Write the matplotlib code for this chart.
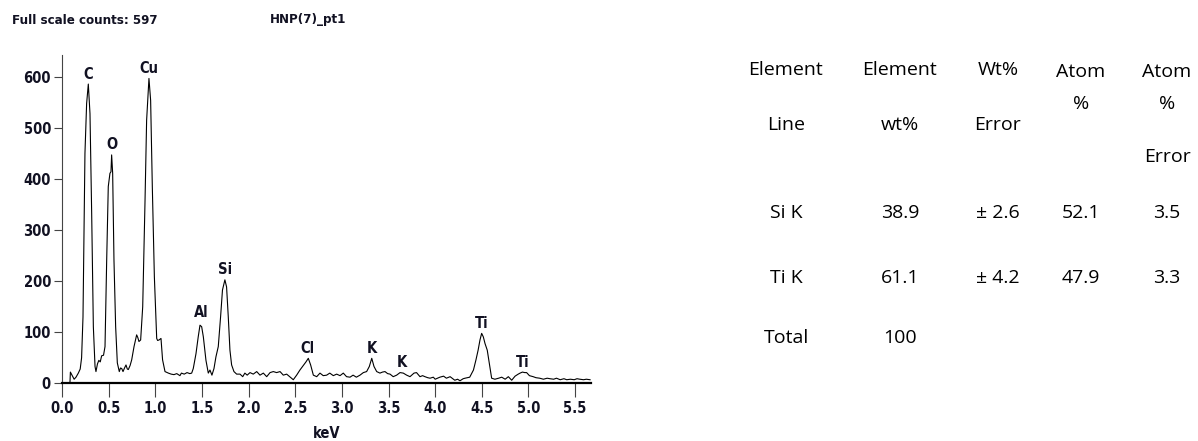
import numpy as np
import matplotlib
matplotlib.use("Agg")
import matplotlib.pyplot as plt

# EDS spectrum (keV, counts)
energy = [0.00, 0.085, 0.09, 0.11, 0.13, 0.15, 0.175, 0.195, 0.21, 0.225, 0.236, 0.246,
          0.264, 0.282, 0.30, 0.318, 0.336, 0.354, 0.364, 0.38, 0.395, 0.41, 0.425, 0.445,
          0.461, 0.479, 0.496, 0.514, 0.525, 0.532, 0.543, 0.557, 0.575, 0.593, 0.614,
          0.627, 0.64, 0.654, 0.67, 0.686, 0.70, 0.711, 0.73, 0.747, 0.772, 0.80, 0.812,
          0.825, 0.843, 0.865, 0.89, 0.907, 0.932, 0.95, 0.968, 0.99, 1.015, 1.025, 1.04,
          1.061, 1.078, 1.104, 1.14, 1.17, 1.20, 1.23, 1.264, 1.28, 1.31, 1.34, 1.37,
          1.39, 1.407, 1.436, 1.46, 1.479, 1.497, 1.515, 1.543, 1.568, 1.586, 1.607,
          1.629, 1.65, 1.675, 1.70, 1.72, 1.746, 1.764, 1.782, 1.80, 1.818, 1.843, 1.872,
          1.908, 1.937, 1.96, 1.985, 2.015, 2.05, 2.087, 2.122, 2.158, 2.194, 2.23, 2.265,
          2.30, 2.337, 2.372, 2.408, 2.44, 2.479, 2.515, 2.55, 2.59, 2.615, 2.64, 2.665,
          2.694, 2.73, 2.765, 2.80, 2.837, 2.87, 2.908, 2.944, 2.98, 3.015, 3.05, 3.087,
          3.12, 3.155, 3.194, 3.23, 3.265, 3.294, 3.32, 3.344, 3.373, 3.408, 3.435, 3.462,
          3.49, 3.516, 3.55, 3.587, 3.623, 3.658, 3.694, 3.73, 3.773, 3.80, 3.837, 3.865,
          3.89, 3.92, 3.945, 3.98, 4.0, 4.05, 4.09, 4.12, 4.16, 4.21, 4.24, 4.266, 4.30,
          4.32, 4.37, 4.41, 4.437, 4.46, 4.48, 4.498, 4.516, 4.534, 4.558, 4.58, 4.605,
          4.64, 4.68, 4.713, 4.75, 4.784, 4.82, 4.856, 4.89, 4.91, 4.935, 4.96, 4.98,
          5.01, 5.05, 5.08, 5.12, 5.16, 5.20, 5.23, 5.27, 5.30, 5.34, 5.38, 5.41, 5.45,
          5.49, 5.52, 5.55, 5.59, 5.62, 5.66]
counts = [0, 0, 22, 15, 8, 12, 20, 28, 50, 130, 307, 451,
          549, 587, 529, 334, 111, 33, 23, 38, 45, 42, 54, 55,
          72, 242, 386, 412, 415, 448, 412, 242, 111, 40, 23,
          30, 29, 23, 30, 36, 28, 27, 35, 46, 72, 95, 90,
          82, 85, 150, 359, 516, 598, 555, 386, 209, 88, 84, 85,
          88, 46, 23, 20, 18, 17, 19, 15, 20, 18, 21, 19,
          20, 29, 58, 91, 114, 111, 91, 45, 20, 26, 16,
          29, 52, 72, 131, 183, 203, 189, 131, 65, 36, 23, 18,
          18, 13, 20, 16, 21, 18, 23, 16, 20, 13, 21, 23,
          21, 23, 16, 18, 13, 7, 16, 26, 36, 42, 49, 36,
          16, 13, 20, 15, 16, 20, 15, 18, 15, 20, 13, 12,
          16, 12, 16, 21, 23, 33, 49, 33, 23, 20, 22, 23,
          19, 18, 13, 16, 21, 20, 16, 13, 20, 21, 13, 15,
          13, 11, 10, 12, 8, 12, 14, 10, 13, 6, 8, 5, 9,
          10, 12, 26, 46, 65, 85, 98, 91, 78, 65, 39, 10,
          8, 10, 12, 8, 13, 6, 14, 18, 20, 22, 21, 21,
          15, 13, 11, 10, 8, 10, 9, 8, 10, 7, 9, 7, 8,
          7, 9, 8, 7, 8, 7]

# peak markers
peak_names = ['C', 'O', 'Cu', 'Al', 'Si', 'Cl', 'K', 'K', 'Ti', 'Ti']
peak_kev = [0.28, 0.53, 0.93, 1.49, 1.75, 2.63, 3.32, 3.64, 4.50, 4.94]
peak_lbl = [606, 469, 617, 139, 224, 69, 69, 40, 118, 40]

# quantification table
table_elem = ['Si K', 'Ti K', 'Total']
table_wt = ['38.9', '61.1', '100']
table_wt_err = ['± 2.6', '± 4.2', '']
table_atom = ['52.1', '47.9', '']
table_atom_err = ['3.5', '3.3', '']

W, H = 1198, 441
fig = plt.figure(figsize=(W / 100, H / 100), dpi=100)
ax = fig.add_axes([62 / W, (H - 383.3) / H, 529 / W, 328.3 / H])

narrow = dict(family=['DejaVu Sans'], stretch='condensed', weight='bold')
ink = '#111122'

ax.plot(energy, counts, color='black', lw=0.8)
ax.set_xlim(0, 5.67)
ax.set_ylim(0, 644)
ax.set_xticks(np.arange(0, 5.51, 0.5))
ax.set_yticks(np.arange(0, 601, 100))
ax.set_xticklabels(['%.1f' % v for v in np.arange(0, 5.51, 0.5)])
for s in ['top', 'right']:
    ax.spines[s].set_visible(False)
ax.spines['bottom'].set_linewidth(1.6)
ax.spines['left'].set_linewidth(0.8)
ax.spines['left'].set_color('#444444')
ax.tick_params(axis='x', length=10, width=0.8, pad=3, color='#444444')
ax.tick_params(axis='y', length=6, width=0.8, pad=2, color='#444444')
for lab in ax.get_xticklabels() + ax.get_yticklabels():
    lab.set_fontfamily(narrow['family'])
    lab.set_fontstretch('condensed')
    lab.set_fontweight('bold')
    lab.set_fontsize(10.5)
    lab.set_color(ink)
ax.set_xlabel('keV', fontsize=10.5, color=ink, labelpad=7, **narrow)

for name, x, y in zip(peak_names, peak_kev, peak_lbl):
    ax.text(x, y, name, ha='center', va='center', fontsize=10.5, color=ink, **narrow)

fig.text(12 / W, 1 - 20 / H, 'Full scale counts: 597', fontsize=9.5, color=ink,
         va='center', **narrow)
fig.text(270 / W, 1 - 20 / H, 'HNP(7)_pt1', fontsize=9.5, color=ink, va='center', **narrow)

# table
tf = dict(family=['Open Sans', 'DejaVu Sans'], fontsize=14, color='black', ha='center', va='center')
cols = [786, 900, 998, 1081, 1167]
def put(px, py, s):
    fig.text(px / W, 1 - py / H, s, **tf)

put(cols[0], 70, 'Element')
put(cols[0], 125, 'Line')
put(cols[1], 70, 'Element')
put(cols[1], 125, 'wt%')
put(cols[2], 70, 'Wt%')
put(cols[2], 125, 'Error')
put(cols[3], 72, 'Atom')
put(cols[3], 104, '%')
put(cols[4], 72, 'Atom')
put(cols[4], 104, '%')
put(cols[4], 157, 'Error')

rows_y = [213, 278, 338]
for i, ry in enumerate(rows_y):
    put(cols[0], ry, table_elem[i])
    put(cols[1], ry, table_wt[i])
    put(cols[2], ry, table_wt_err[i])
    put(cols[3], ry, table_atom[i])
    put(cols[4], ry, table_atom_err[i])

fig.savefig('out.png', dpi=100)
